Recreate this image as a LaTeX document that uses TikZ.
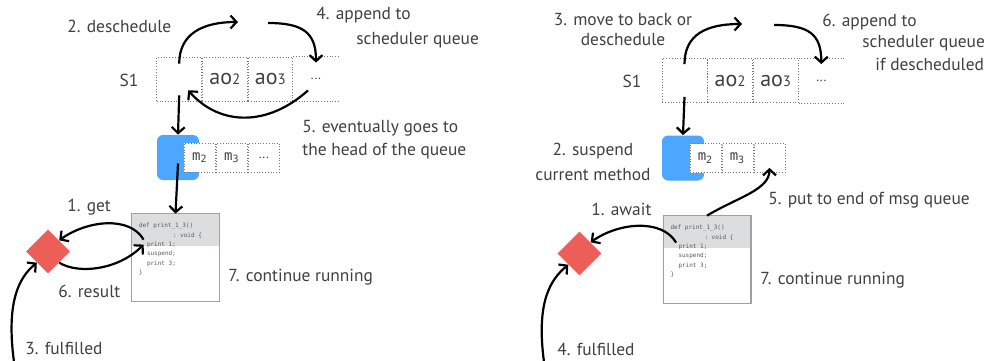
\documentclass[tikz,border=0pt]{standalone}
\usepackage{fontspec}
\setmainfont{PT Sans}
\setmonofont{DejaVu Sans Mono}
\usetikzlibrary{positioning,shapes.geometric,arrows.meta}

\definecolor{inkgray}{RGB}{64,64,64}
\definecolor{dotgray}{RGB}{120,120,120}
\definecolor{hdrgray}{RGB}{220,221,223}
\definecolor{boxgray}{RGB}{160,160,160}
\definecolor{actblue}{RGB}{77,166,255}
\definecolor{futred}{RGB}{236,94,88}

\newcommand{\lowdig}[1]{{\fontsize{7.5pt}{7.5pt}\selectfont #1}}
\newcommand{\smalldots}{{\rmfamily\fontsize{6.5pt}{7pt}\selectfont ...}}

\tikzset{
  lbl/.style={font=\fontsize{8.7pt}{10pt}\selectfont, text=inkgray, inner sep=0pt},
  qcell/.style={draw=dotgray, densely dotted, line width=0.4pt, minimum width=22.4pt, minimum height=22pt, inner sep=0pt, font=\fontsize{11pt}{12pt}\selectfont, text=inkgray},
  mcell/.style={draw=dotgray, densely dotted, fill=white, minimum width=15.6pt, minimum height=14.5pt, inner sep=0pt, font=\ttfamily\fontsize{7pt}{8pt}\selectfont, text=inkgray},
  actor/.style={fill=actblue, rounded corners=3pt, minimum width=21pt, minimum height=22.5pt, inner sep=0pt},
  codebox/.style={minimum width=43.5pt, minimum height=43.5pt, inner sep=0pt},
  codetext/.style={font=\ttfamily\fontsize{3pt}{4pt}\selectfont, text=black!65, inner sep=0pt},
  future/.style={diamond, fill=futred, minimum width=22pt, minimum height=22pt, inner sep=0pt},
  arr/.style={-{Straight Barb[length=3pt,width=6.5pt]}, line width=1.1pt},
}

%% header, frame and source lines of a method box
\newcommand{\codelines}[1]{%
  \fill[hdrgray] (#1.north west) rectangle ([yshift=-16pt]#1.north east);
  \draw[boxgray, line width=0.6pt] (#1.north west) rectangle (#1.south east);
  \foreach \src/\dx/\dy [count=\k] in {{def print\_1\_3()}/7/14, {: void \{}/41/24, {print 1;}/15/33, {suspend;}/15/42, {print 3;}/15/52, {\}}/7/61}
    \node[codetext, anchor=base west] (#1-ln\k) at ([xshift=\dx*0.5pt, yshift=-\dy*0.5pt]#1.north west) {\src};
}

\begin{document}
\begin{tikzpicture}[x=0.5pt, y=-0.5pt]
  \useasboundingbox (0,0) rectangle (997,360);

  %%%% Left: get
  %% Scheduler queue
  \node[lbl] (s1L) at (129,80) {S1};
  \node[qcell] (q1a) at (179.2,79) {};
  \node[qcell, right=0pt of q1a] (q1b) {ao\lowdig{2}};
  \node[qcell, right=0pt of q1b] (q1c) {ao\lowdig{3}};
  \node[qcell, draw=none, right=0pt of q1c] (q1d) {\smalldots};
  \draw[dotgray, densely dotted] (q1c.north east) -- (q1d.north east) (q1c.south east) -- (q1d.south east);
  %% Active object and its messages
  \node[actor] (blueL) at (178,157.5) {};
  \node[mcell] (m1a) at (199.8,157.5) {m\textsubscript{2}};
  \node[mcell, right=0pt of m1a] (m1b) {m\textsubscript{3}};
  \node[mcell, right=0pt of m1b] (m1c) {\smalldots};
  %% Method and future
  \node[codebox] (codeL) at (175.5,257.5) {};
  \codelines{codeL}
  \node[future] (dL) at (48,251.5) {};
  %% Arrows
  \coordinate (hopL) at (238,22);
  \coordinate (landL) at (268,23);
  \coordinate (fulL) at (14,362);
  \draw[arr] ([yshift=-3.5pt]q1a.north) .. controls +(0,-30) and +(-35,0) .. (hopL);
  \draw[arr] (landL) .. controls +(35,0) and +(0,-30) .. ([yshift=-3pt]q1d.north);
  \draw[arr] ([xshift=-4pt,yshift=5.5pt]q1d.south) .. controls +(-40,36) and +(32,36) .. ([xshift=4.5pt,yshift=5.5pt]q1a.south);
  \draw[arr] ([yshift=3pt]q1a.south) -- (blueL.north);
  \draw[arr] ([yshift=-3pt]blueL.center) -- (codeL.north);
  \draw[arr] ([xshift=6pt,yshift=-13pt]codeL.north west) .. controls +(-14,-24) and +(28,-20) .. (dL.north east);
  \draw[arr] (dL.south east) .. controls +(20,12) and +(-25,25) .. ([xshift=6pt,yshift=-15.5pt]codeL.north west);
  \draw[arr] (fulL) .. controls +(-8,-60) and +(-18,15) .. (dL.south west);
  %% Labels
  \node[lbl, anchor=base west] (t2L) at (67,32) {2. deschedule};
  \node[lbl, anchor=base west] (t4L) at (316,19) {4. append to};
  \node[lbl, anchor=base west] (t4Lb) at (356,44) {scheduler queue};
  \node[lbl, anchor=base west] (t5L) at (302,132) {5. eventually goes to};
  \node[lbl, anchor=base west] (t5Lb) at (302,155) {the head of the queue};
  \node[lbl, anchor=base west] (t1L) at (67,211) {1. get};
  \node[lbl, anchor=base west] (t6L) at (58,297) {6. result};
  \node[lbl, anchor=base west] (t7L) at (228,281) {7. continue running};
  \node[lbl, anchor=base west] (t3L) at (25,354) {3. fulfilled};

  %%%% Right: await
  %% Scheduler queue
  \node[lbl] (s1R) at (632,81) {S1};
  \node[qcell] (q2a) at (684.5,80.5) {};
  \node[qcell, right=0pt of q2a] (q2b) {ao\lowdig{2}};
  \node[qcell, right=0pt of q2b] (q2c) {ao\lowdig{3}};
  \node[qcell, draw=none, right=0pt of q2c] (q2d) {\smalldots};
  \draw[dotgray, densely dotted] (q2c.north east) -- (q2d.north east) (q2c.south east) -- (q2d.south east);
  %% Active object and its messages
  \node[actor] (blueR) at (683,158) {};
  \node[mcell] (m2a) at (705.5,158) {m\textsubscript{2}};
  \node[mcell, right=0pt of m2a] (m2b) {m\textsubscript{3}};
  \node[mcell, right=0pt of m2b] (m2c) {};
  %% Method and future
  \node[codebox] (codeR) at (707,259.5) {};
  \codelines{codeR}
  \node[future] (dR) at (579.5,253.5) {};
  %% Arrows
  \coordinate (hopR) at (742,24);
  \coordinate (landR) at (774,25);
  \coordinate (fulR) at (544,362);
  \draw[arr] ([yshift=-3pt]q2a.north) .. controls +(0,-30) and +(-35,0) .. (hopR);
  \draw[arr] (landR) .. controls +(35,0) and +(0,-30) .. ([yshift=-3pt]q2d.north);
  \draw[arr] ([yshift=3pt]q2a.south) -- (blueR.north);
  \draw[arr] (codeR.north) .. controls +(30,-18) and +(0,22) .. ([yshift=2.5pt]m2c.south);
  \draw[arr] ([xshift=6.5pt,yshift=-13.5pt]codeR.north west) .. controls +(-14,-24) and +(28,-20) .. (dR.north east);
  \draw[arr] (fulR) .. controls +(-8,-60) and +(-18,15) .. (dR.south west);
  %% Labels
  \node[lbl, anchor=base] (t3R) at (623,25) {3. move to back or};
  \node[lbl, anchor=base] (t3Rb) at (623,45) {deschedule};
  \node[lbl, anchor=base west] (t6R) at (822,26) {6. append to};
  \node[lbl, anchor=base west] (t6Rb) at (862,47) {scheduler queue};
  \node[lbl, anchor=base west] (t6Rc) at (875,70) {if descheduled};
  \node[lbl, anchor=base] (t2R) at (593,155) {2. suspend};
  \node[lbl, anchor=base] (t2Rb) at (593,180) {current method};
  \node[lbl, anchor=base west] (t5R) at (768,204) {5. put to end of msg queue};
  \node[lbl, anchor=base west] (t1R) at (591,215) {1. await};
  \node[lbl, anchor=base west] (t7R) at (760,284) {7. continue running};
  \node[lbl, anchor=base west] (t4R) at (557,355) {4. fulfilled};
\end{tikzpicture}
\end{document}
